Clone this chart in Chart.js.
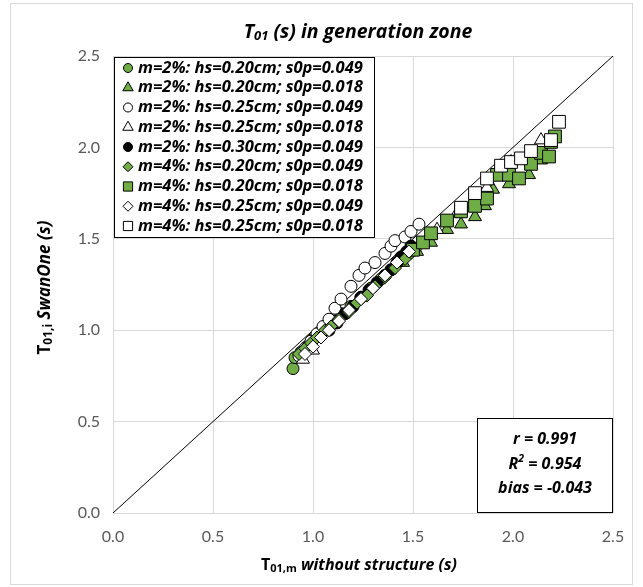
<!DOCTYPE html>
<html><head><meta charset="utf-8">
<script src="https://cdn.jsdelivr.net/npm/chart.js@4.4.0/dist/chart.umd.min.js"></script>
<style>html,body{margin:0;padding:0;background:#fff}#wrap{width:643px;height:587px;position:relative}</style>
</head><body><div id="wrap"><canvas id="c" width="643" height="587"></canvas></div>
<script>
const FONT = '"Open Sans", Lato, sans-serif';
const TICKFONT = 'Lato, "Open Sans", sans-serif';
const GREEN = '#70AD47';

// axis range / ticks
const axisMin = 0, axisMax = 2.5, axisStep = 0.5;

// one-to-one line
const diagX = [0, 2.5];
const diagY = [0, 2.5];

// series labels
const seriesLabels = [
  'm=2%: hs=0.20cm; s0p=0.049',
  'm=2%: hs=0.20cm; s0p=0.018',
  'm=2%: hs=0.25cm; s0p=0.049',
  'm=2%: hs=0.25cm; s0p=0.018',
  'm=2%: hs=0.30cm; s0p=0.049',
  'm=4%: hs=0.20cm; s0p=0.049',
  'm=4%: hs=0.20cm; s0p=0.018',
  'm=4%: hs=0.25cm; s0p=0.049',
  'm=4%: hs=0.25cm; s0p=0.018'
];

// m=2% hs=0.20 s0p=0.049
const s1x = [0.90,0.91,0.94,0.97,1.00,1.03,1.06,1.10,1.14,1.19,1.24,1.29,1.34,1.39,1.44,1.48];
const s1y = [0.79,0.85,0.88,0.91,0.95,0.98,1.01,1.05,1.09,1.13,1.18,1.23,1.28,1.33,1.38,1.42];
// m=2% hs=0.20 s0p=0.018
const s2x = [1.45,1.52,1.59,1.67,1.74,1.81,1.86,1.90,1.98,2.08,2.14];
const s2y = [1.37,1.43,1.48,1.55,1.58,1.62,1.68,1.77,1.80,1.85,1.93];
// m=2% hs=0.25 s0p=0.049
const s3x = [0.93,0.96,0.99,1.02,1.05,1.08,1.11,1.14,1.19,1.23,1.26,1.31,1.36,1.39,1.41,1.46,1.49,1.53];
const s3y = [0.86,0.90,0.94,0.98,1.02,1.06,1.12,1.17,1.24,1.30,1.34,1.37,1.42,1.46,1.49,1.51,1.54,1.58];
// m=2% hs=0.25 s0p=0.018
const s4x = [0.95,1.00,1.50,1.62,1.72,1.81,1.87,1.94,1.99,2.14];
const s4y = [0.84,0.89,1.45,1.55,1.64,1.72,1.78,1.86,1.92,2.04];
// m=2% hs=0.30 s0p=0.049
const s5x = [1.08,1.12,1.16,1.20,1.24,1.28,1.32,1.36,1.39,1.42,1.44,1.47,1.49];
const s5y = [1.00,1.04,1.09,1.13,1.18,1.22,1.26,1.30,1.33,1.37,1.40,1.43,1.46];
// m=4% hs=0.20 s0p=0.049
const s6x = [0.93,0.96,0.99,1.02,1.06,1.09,1.13,1.18,1.22,1.27,1.31,1.36,1.41,1.46,1.51];
const s6y = [0.87,0.90,0.93,0.96,1.00,1.02,1.06,1.10,1.15,1.19,1.24,1.29,1.34,1.39,1.44];
// m=4% hs=0.20 s0p=0.018
const s7x = [1.50,1.55,1.59,1.67,1.74,1.81,1.87,1.92,1.98,2.03,2.09,2.14,2.18,2.19,2.21];
const s7y = [1.44,1.48,1.53,1.60,1.65,1.68,1.72,1.85,1.85,1.83,1.91,1.97,1.95,2.03,2.06];
// m=4% hs=0.25 s0p=0.049
const s8x = [0.96,1.00,1.04,1.08,1.13,1.18,1.24,1.30,1.36,1.42,1.48];
const s8y = [0.87,0.91,0.96,1.00,1.05,1.11,1.17,1.23,1.30,1.37,1.43];
// m=4% hs=0.25 s0p=0.018
const s9x = [1.74,1.81,1.87,1.94,1.99,2.04,2.09,2.19,2.23];
const s9y = [1.67,1.75,1.83,1.90,1.92,1.94,1.98,2.04,2.14];

// statistics
const statR = '0.991', statR2 = '0.954', statBias = '-0.043';

const seriesX = [s1x,s2x,s3x,s4x,s5x,s6x,s7x,s8x,s9x];
const seriesY = [s1y,s2y,s3y,s4y,s5y,s6y,s7y,s8y,s9y];
const styles = [
  {ps:'circle',   fill:GREEN,  r:6,   lr:4.5},
  {ps:'triangle', fill:GREEN,  r:7.5, lr:6},
  {ps:'circle',   fill:'#fff', r:6,   lr:4.5},
  {ps:'triangle', fill:'#fff', r:7.5, lr:6},
  {ps:'circle',   fill:'#000', r:6,   lr:4.5},
  {ps:'rectRot',  fill:GREEN,  r:6.5, lr:5},
  {ps:'rect',     fill:GREEN,  r:9,   lr:6.5},
  {ps:'rectRot',  fill:'#fff', r:6.5, lr:5},
  {ps:'rect',     fill:'#fff', r:9,   lr:6.5}
];

const zip = (xs, ys) => xs.map((x, i) => ({x, y: ys[i]}));

const datasets = [{
  type:'line', label:'1:1', data: zip(diagX, diagY), borderColor:'#000', borderWidth:1,
  pointRadius:0, fill:false, order:100
}];
seriesLabels.forEach((lab, i) => {
  datasets.push({
    type:'scatter', label:lab, data: zip(seriesX[i], seriesY[i]),
    pointStyle: styles[i].ps, pointRadius: styles[i].r, pointHoverRadius: styles[i].r,
    backgroundColor: styles[i].fill, borderColor:'#000', borderWidth:1, order: 20 - i
  });
});

function drawRuns(ctx, runs, x, y, align) {
  let total = 0;
  runs.forEach(r => { ctx.font = r.font; r.w = ctx.measureText(r.t).width; total += r.w; });
  let cx = align === 'center' ? x - total/2 : (align === 'right' ? x - total : x);
  ctx.textBaseline = 'middle'; ctx.textAlign = 'left';
  runs.forEach(r => { ctx.font = r.font; ctx.fillText(r.t, cx, y + (r.dy || 0)); cx += r.w; });
}

const decor = {
  id:'decor',
  beforeDraw(chart) {
    const ctx = chart.ctx;
    ctx.save();
    ctx.fillStyle = '#fff';
    ctx.fillRect(0, 0, chart.width, chart.height);
    ctx.strokeStyle = '#D9D9D9'; ctx.lineWidth = 1;
    ctx.strokeRect(10.5, 3.5, chart.width - 21, chart.height - 6);
    ctx.restore();
  },
  afterDraw(chart) {
    const ctx = chart.ctx, a = chart.chartArea;
    ctx.save();
    ctx.fillStyle = '#000';
    const cxm = (a.left + a.right) / 2;
    // title
    drawRuns(ctx, [
      {t:'T', font:'bold italic 19.5px ' + FONT},
      {t:'01', font:'bold italic 13px ' + FONT, dy:4},
      {t:' (s) in generation zone', font:'bold italic 19.5px ' + FONT}
    ], cxm - 5, 32, 'center');
    // x title
    drawRuns(ctx, [
      {t:'T', font:'bold 16px ' + FONT},
      {t:'01,m', font:'bold 11px ' + FONT, dy:4},
      {t:' without structure (s)', font:'bold italic 16px ' + FONT}
    ], cxm - 4, 565, 'center');
    // y title
    ctx.save();
    ctx.translate(45, (a.top + a.bottom) / 2 + 3);
    ctx.rotate(-Math.PI / 2);
    drawRuns(ctx, [
      {t:'T', font:'bold 17px ' + FONT},
      {t:'01,i', font:'bold 12px ' + FONT, dy:4},
      {t:' SwanOne (s)', font:'bold italic 17px ' + FONT}
    ], 0, 0, 'center');
    ctx.restore();

    // legend box
    const lx = a.left + 1, ly = a.top + 1, lw = 260, lh = 180;
    ctx.fillStyle = '#fff';
    ctx.fillRect(lx, ly, lw, lh);
    ctx.strokeStyle = '#000'; ctx.lineWidth = 1;
    ctx.strokeRect(Math.round(lx) + 0.5, Math.round(ly) + 0.5, lw, lh);
    seriesLabels.forEach((lab, i) => {
      const yy = ly + 11 + i * 19.75;
      ctx.fillStyle = styles[i].fill; ctx.strokeStyle = '#000'; ctx.lineWidth = 1;
      Chart.helpers.drawPoint(ctx, {pointStyle: styles[i].ps, radius: styles[i].lr, rotation: 0, borderWidth: 1}, lx + 14, yy);
      ctx.fillStyle = '#000';
      drawRuns(ctx, [{t: lab, font:'bold italic 16.5px ' + FONT}], lx + 24, yy, 'left');
    });

    // stats box
    const bw = 136, bh = 95;
    const bx = a.right - bw, by = a.bottom - bh;
    ctx.fillStyle = '#fff';
    ctx.fillRect(bx, by, bw, bh);
    ctx.strokeStyle = '#000';
    ctx.strokeRect(Math.round(bx) + 0.5, Math.round(by) + 0.5, bw - 1, bh - 1);
    ctx.fillStyle = '#000';
    const bc = bx + bw / 2;
    const sf = 'bold italic 16px ' + FONT;
    drawRuns(ctx, [{t:'r = ' + statR, font:sf}], bc, by + 21, 'center');
    drawRuns(ctx, [{t:'R', font:sf}, {t:'2', font:'bold italic 10.5px ' + FONT, dy:-5}, {t:' = ' + statR2, font:sf}], bc, by + 46, 'center');
    drawRuns(ctx, [{t:'bias = ' + statBias, font:sf}], bc, by + 70, 'center');
    ctx.restore();
  }
};

const tickFont = {family: TICKFONT, size: 16};
new Chart(document.getElementById('c'), {
  data: {datasets},
  options: {
    responsive:false, animation:false, devicePixelRatio:1,
    layout:{padding:{left:0, right:30, top:56, bottom:0}},
    plugins:{legend:{display:false}, tooltip:{enabled:false}, title:{display:false}},
    scales:{
      x:{type:'linear', min:axisMin, max:axisMax,
         ticks:{stepSize:axisStep, font:tickFont, color:'#595959', padding:14, callback:v => v.toFixed(1), maxRotation:0},
         grid:{color:'#D9D9D9', drawTicks:false}, border:{display:false},
         afterFit(s){ s.height = 74; }},
      y:{type:'linear', min:axisMin, max:axisMax,
         ticks:{stepSize:axisStep, font:tickFont, color:'#595959', padding:13, callback:v => v.toFixed(1)},
         grid:{color:'#D9D9D9', drawTicks:false}, border:{display:false},
         afterFit(s){ s.width = 113; }}
    }
  },
  plugins:[decor]
});
</script></body></html>
